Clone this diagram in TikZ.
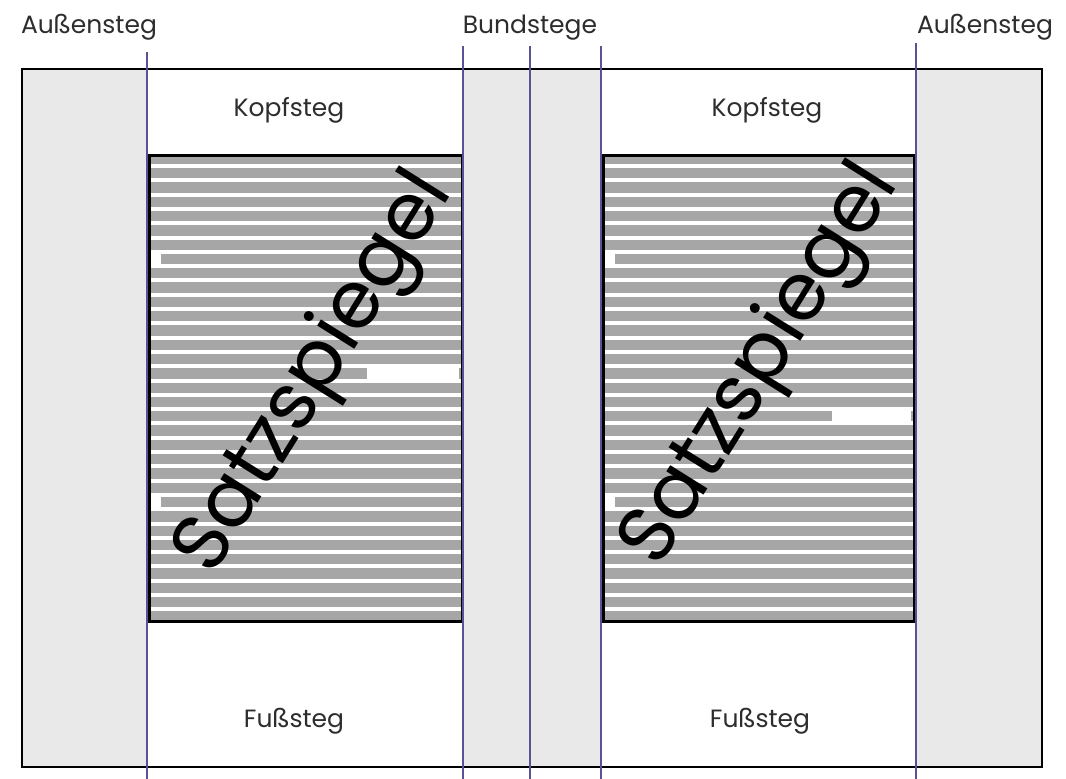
\documentclass[tikz,border=0pt]{standalone}
\usepackage{fontspec}
\setmainfont{Poppins}
\definecolor{guide}{RGB}{88,82,150}
\definecolor{stripe}{RGB}{166,166,166}
\definecolor{margin}{RGB}{233,233,233}
\definecolor{labeltext}{RGB}{45,45,45}
\tikzset{
  lbl/.style={anchor=base, inner sep=0pt, text=labeltext, font=\fontsize{25}{25}\selectfont},
  bigtext/.style={inner sep=0pt, text=black, font=\fontsize{80}{80}\selectfont, rotate=58},
  guideline/.style={draw=guide, line width=2.4pt},
  gap/.style={draw=white, line width=4pt},
  blockborder/.style={draw=black, line width=3pt},
}
\begin{document}
\begin{tikzpicture}[x=1pt,y=-1pt]
\useasboundingbox[fill=white] (0,0) rectangle (1066,779);
% margins
\fill[margin] (22,69) rectangle (1042,767);
\fill[white] (147,69) rectangle (463,767);
\fill[white] (601,69) rectangle (916,767);
\draw[line width=2pt, black] (22,69) rectangle (1042,767);
% text blocks
\foreach \bx/\ex in {149/462, 603/914}{
  \fill[stripe] (\bx,155) rectangle (\ex,621);
  \foreach \k in {0,...,31}{
    \draw[gap] (\bx,{166+\k*14.3}) -- (\ex,{166+\k*14.3});
  }
  \fill[white] ({\bx+2},{166+6*14.3}) rectangle ({\bx+12},{166+7*14.3});
  \fill[white] ({\bx+2},{166+23*14.3}) rectangle ({\bx+12},{166+24*14.3});
}
\fill[white] (367,{166+14*14.3}) rectangle (459,{166+15*14.3});
\fill[white] (832,{166+17*14.3}) rectangle (911,{166+18*14.3});
\draw[blockborder] (149,155) rectangle (462,621);
\draw[blockborder] (603,155) rectangle (914,621);
% Satzspiegel
\node[bigtext] (satzL) at (316,374) {Satzspiegel};
\node[bigtext] (satzR) at (762,366) {Satzspiegel};
% guide lines
\draw[guideline] (147,52) -- (147,779);
\draw[guideline] (463,46) -- (463,779);
\draw[guideline] (530,46) -- (530,779);
\draw[guideline] (601,46) -- (601,779);
\draw[guideline] (916,43) -- (916,779);
% labels
\node[lbl] (aussenL) at (89,33) {Außensteg};
\node[lbl] (bund) at (530,33) {Bundstege};
\node[lbl] (aussenR) at (985,33) {Außensteg};
\node[lbl] (kopfL) at (289,116) {Kopfsteg};
\node[lbl] (kopfR) at (767,116) {Kopfsteg};
\node[lbl] (fussL) at (294,727) {Fußsteg};
\node[lbl] (fussR) at (760,727) {Fußsteg};
\end{tikzpicture}
\end{document}
